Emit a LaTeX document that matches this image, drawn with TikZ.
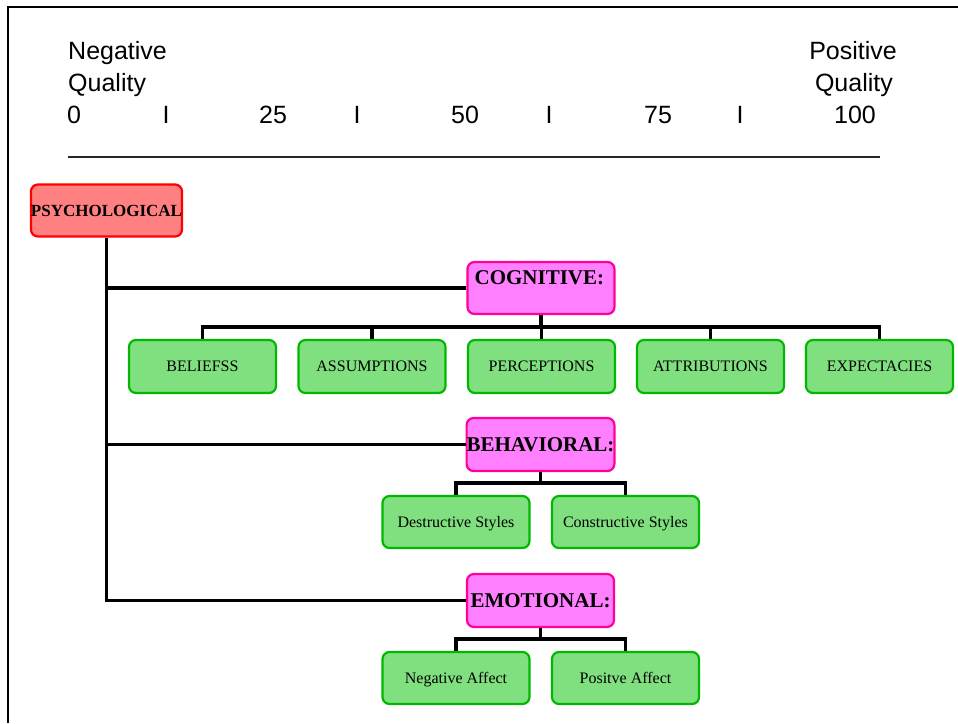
\documentclass[tikz,border=0pt]{standalone}
\usepackage{fontspec}
\setmainfont{Liberation Serif}
\newfontfamily\arialf{Liberation Sans}
\definecolor{redfill}{HTML}{FF8080}
\definecolor{redline}{HTML}{FF0000}
\definecolor{magfill}{HTML}{FF80FF}
\definecolor{magline}{HTML}{FF0099}
\definecolor{grnfill}{HTML}{80E080}
\definecolor{grnline}{HTML}{00B800}
\begin{document}
\begin{tikzpicture}[x=1pt,y=-1pt,
  scaletxt/.style={font=\arialf\fontsize{25}{30}\selectfont, inner sep=0pt, anchor=base},
  boxbase/.style={rectangle, rounded corners=7pt, line width=2.2pt, minimum width=147pt, minimum height=52pt, inner sep=0pt},
  redbox/.style={boxbase, draw=redline, fill=redfill, font=\bfseries\fontsize{17}{19}\selectfont},
  magbox/.style={boxbase, draw=magline, fill=magfill, font=\bfseries\fontsize{21}{23}\selectfont},
  magtxt/.style={inner sep=0pt, font=\bfseries\fontsize{21}{23}\selectfont},
  grnbox/.style={boxbase, draw=grnline, fill=grnfill, font=\fontsize{16}{18}\selectfont, text height=12pt, text depth=1.5pt},
  conn/.style={line width=3.7pt, draw=black},
  frame/.style={line width=2.5pt, draw=black}
]
\useasboundingbox (0,0) rectangle (958,723);
% frame
\coordinate (ftl) at (8,7);
\coordinate (ftr) at (958,7);
\coordinate (fbl) at (8,723);
\draw[frame] (fbl) -- (ftl) -- (ftr);

% scale
\node[scaletxt, anchor=base west] (neg1) at (68,59) {Negative};
\node[scaletxt, anchor=base west] (neg2) at (68,91) {Quality};
\node[scaletxt, anchor=base east] (pos1) at (897,59) {Positive};
\node[scaletxt, anchor=base east] (pos2) at (893,91) {Quality};
\node[scaletxt] (n0) at (74,123) {0};
\node[scaletxt] (t1) at (166,123) {I};
\node[scaletxt] (n25) at (273,123) {25};
\node[scaletxt] (t2) at (357,123) {I};
\node[scaletxt] (n50) at (465,123) {50};
\node[scaletxt] (t3) at (549,123) {I};
\node[scaletxt] (n75) at (658,123) {75};
\node[scaletxt] (t4) at (740,123) {I};
\node[scaletxt] (n100) at (855,123) {100};
\coordinate (ulA) at (68,157);
\coordinate (ulB) at (880,157);
\draw[line width=1.3pt, draw=black!85] (ulA) -- (ulB);

% main boxes
\node[redbox] (psy) at (106.5,210.5) {PSYCHOLOGICAL};
\node[magbox] (cog) at (541,288) {};
\node[magtxt, anchor=north west] (cogt) at ([xshift=8pt,yshift=-9pt]cog.north west) {COGNITIVE:};
\node[magbox, minimum height=53pt] (beh) at (540.5,444.5) {BEHAVIORAL:};
\node[magbox, minimum height=53pt] (emo) at (540.5,600.5) {EMOTIONAL:};

% cognitive children
\node[grnbox, minimum height=53pt] (c1) at (202.5,366.5) {BELIEFSS};
\node[grnbox, minimum height=53pt] (c2) at (372,366.5) {ASSUMPTIONS};
\node[grnbox, minimum height=53pt] (c3) at (541.5,366.5) {PERCEPTIONS};
\node[grnbox, minimum height=53pt] (c4) at (710.5,366.5) {ATTRIBUTIONS};
\node[grnbox, minimum height=53pt] (c5) at (879.5,366.5) {EXPECTACIES};

% behavioral children
\node[grnbox] (b1) at (456,522) {Destructive Styles};
\node[grnbox] (b2) at (625.5,522) {Constructive Styles};

% emotional children
\node[grnbox] (e1) at (456,678) {Negative Affect};
\node[grnbox] (e2) at (625.5,678) {Positve Affect};

% trunk
\draw[conn] (psy.south) |- (emo.west);
\draw[conn] (psy.south) |- (cog.west);
\draw[conn] (psy.south) |- (beh.west);

% cognitive bus
\coordinate (cbus) at (541,327);
\draw[conn] (cog.south) -- (cbus);
\draw[conn] (c1.north) |- (cbus);
\draw[conn] (c2.north) |- (cbus);
\draw[conn] (c3.north) -- (c3.north |- cbus);
\draw[conn] (c4.north) |- (cbus);
\draw[conn] (c5.north) |- (cbus);

% behavioral bus
\coordinate (bbus) at (540.5,483);
\draw[conn] (beh.south) -- (bbus);
\draw[conn] (b1.north) |- (bbus);
\draw[conn] (b2.north) |- (bbus);

% emotional bus
\coordinate (ebus) at (540.5,639);
\draw[conn] (emo.south) -- (ebus);
\draw[conn] (e1.north) |- (ebus);
\draw[conn] (e2.north) |- (ebus);
\end{tikzpicture}
\end{document}
